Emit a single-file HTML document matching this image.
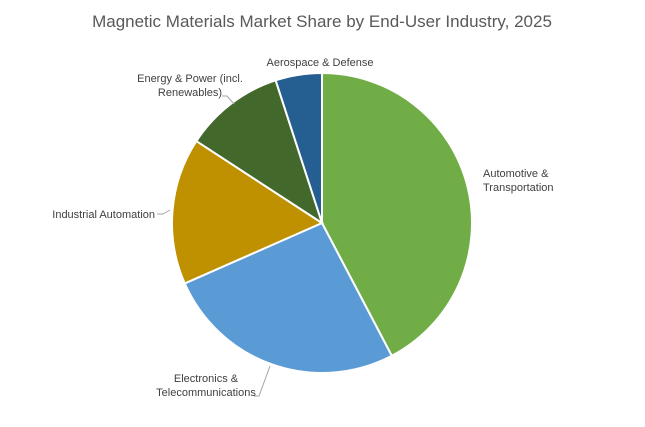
<!DOCTYPE html>
<html><head><meta charset="utf-8"><style>
body{margin:0;background:#fff;}
svg text{font-family:"Liberation Sans",sans-serif;}
</style></head><body>
<svg id="c" width="645" height="422">
<text x="322" y="27" text-anchor="middle" font-size="17" fill="#595959">Magnetic Materials Market Share by End-User Industry, 2025</text>
<g id="slices"></g><g id="labels"></g>
</svg>
<script>
const categories=["Automotive & Transportation","Electronics & Telecommunications","Industrial Automation","Energy & Power (incl. Renewables)","Aerospace & Defense"];
const values=[42.3,26.1,15.8,10.8,5.0];
const colors=["#70AD47","#5B9BD5","#BF9000","#43682B","#255E91"];
const cx=322,cy=223,r=150;
const ns="http://www.w3.org/2000/svg";
const total=values.reduce((a,b)=>a+b,0);
const g=document.getElementById('slices');
function pt(a,rr){return [cx+rr*Math.sin(a),cy-rr*Math.cos(a)];}
let a0=0;
values.forEach((v,i)=>{
  const a1=a0+v/total*2*Math.PI;
  const p0=pt(a0,r),p1=pt(a1,r);
  const large=(a1-a0)>Math.PI?1:0;
  const p=document.createElementNS(ns,'path');
  p.setAttribute('d',`M${cx},${cy}L${p0[0]},${p0[1]}A${r},${r} 0 ${large} 1 ${p1[0]},${p1[1]}Z`);
  p.setAttribute('fill',colors[i]);p.setAttribute('stroke','#fff');p.setAttribute('stroke-width','2');
  
  
  g.appendChild(p);
  a0=a1;
});
const L=document.getElementById('labels');
const labelDefs=[
 {lines:["Automotive &","Transportation"],x:483,y:177,anchor:"start"},
 {lines:["Electronics &","Telecommunications"],x:206,y:382,anchor:"middle",leader:"M254,396 L259,396 L270,366"},
 {lines:["Industrial Automation"],x:155,y:218,anchor:"end",leader:"M157,214 L163,214 L170,210"},
 {lines:["Energy & Power (incl.","Renewables)"],x:190,y:82,anchor:"middle",leader:"M222,96 L227,96 L234,104"},
 {lines:["Aerospace & Defense"],x:320,y:66,anchor:"middle"}
];
labelDefs.forEach((d,i)=>{
  if(d.leader){const pl=document.createElementNS(ns,'path');pl.setAttribute('d',d.leader);pl.setAttribute('stroke','#a6a6a6');pl.setAttribute('fill','none');
  
  
  L.appendChild(pl);}
  const t=document.createElementNS(ns,'text');
  t.setAttribute('x',d.x);t.setAttribute('y',d.y);t.setAttribute('text-anchor',d.anchor);t.setAttribute('font-size','11');t.setAttribute('fill','#404040');
  
  
  d.lines.forEach((s,j)=>{const ts=document.createElementNS(ns,'tspan');ts.setAttribute('x',d.x);ts.setAttribute('dy',j?14:0);ts.textContent=s;t.appendChild(ts);});
  L.appendChild(t);
});
</script>
</body></html>
